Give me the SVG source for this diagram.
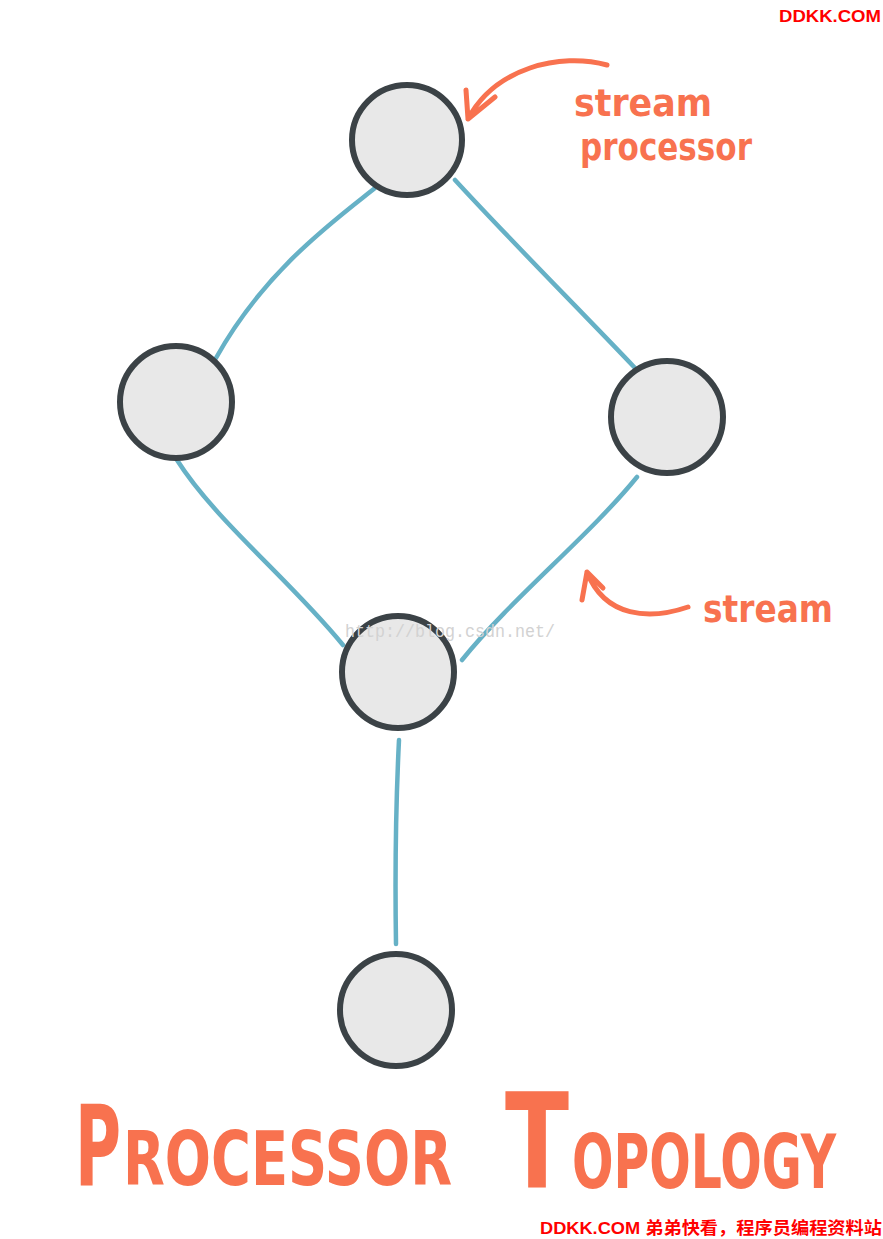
<svg xmlns="http://www.w3.org/2000/svg" width="883" height="1239" viewBox="0 0 883 1239">
<style>
.node{fill:#e8e8e8;stroke:#3b4246;stroke-width:6}
.edge{fill:none;stroke:#66b1c6;stroke-width:4.5;stroke-linecap:round}
.ann{fill:none;stroke:#f8724f;stroke-width:5;stroke-linecap:round;stroke-linejoin:round}
.hand{font-family:"DejaVu Sans","Liberation Sans",sans-serif;fill:#f8724f;font-weight:bold}
.wm{font-family:"Liberation Sans","Noto Sans CJK SC",sans-serif;font-weight:bold;fill:#ff0000;font-size:17px}
</style>
<rect width="883" height="1239" fill="#ffffff"/>
<g id="connectors">
<path class="edge" d="M375,188 C335,220 265,270 216,358"/>
<path class="edge" d="M455,180 C510,240 580,310 635,368"/>
<path class="edge" d="M177,460 C215,520 290,580 343,645"/>
<path class="edge" d="M637,477 C590,535 510,600 462,660"/>
<path class="edge" d="M399,740 C396,800 395,880 396,944"/>
</g>
<g id="node-top"><circle class="node" cx="407" cy="140" r="55"/></g>
<g id="node-left"><circle class="node" cx="176" cy="402" r="56"/></g>
<g id="node-right"><circle class="node" cx="667" cy="417" r="56"/></g>
<g id="node-middle"><circle class="node" cx="398" cy="672" r="56"/></g>
<g id="node-bottom"><circle class="node" cx="396" cy="1010" r="56"/></g>
<g id="label-stream-processor">
<path class="ann" d="M607,65 C560,52 495,68 468,119 M466,90 L468,119 L495,97"/>
<text class="hand" x="574" y="116" font-size="38" textLength="138" lengthAdjust="spacingAndGlyphs">stream</text>
<text class="hand" x="580" y="160" font-size="38" textLength="172" lengthAdjust="spacingAndGlyphs">processor</text>
</g>
<g id="label-stream">
<path class="ann" d="M688,607 C650,620 605,618 587,572 M582,600 L587,572 L603,588"/>
<text class="hand" x="703" y="622" font-size="38" textLength="130" lengthAdjust="spacingAndGlyphs">stream</text>
</g>
<g id="title">
<text class="hand" x="75" y="1185" font-size="112" textLength="46" lengthAdjust="spacingAndGlyphs">P</text>
<text class="hand" x="123" y="1185" font-size="74" textLength="329" lengthAdjust="spacingAndGlyphs">ROCESSOR</text>
<text class="hand" x="505" y="1188" font-size="132" textLength="64" lengthAdjust="spacingAndGlyphs">T</text>
<text class="hand" x="572" y="1188" font-size="74" textLength="264" lengthAdjust="spacingAndGlyphs">OPOLOGY</text>
</g>
<text x="345" y="637" font-family="'Liberation Mono',monospace" font-size="18" fill="#d2d2d2" textLength="210" lengthAdjust="spacingAndGlyphs">http://blog.csdn.net/</text>
<text class="wm" x="779" y="22" textLength="102" lengthAdjust="spacingAndGlyphs">DDKK.COM</text>
<text class="wm" x="540" y="1234" textLength="342" lengthAdjust="spacingAndGlyphs">DDKK.COM 弟弟快看，程序员编程资料站</text>
</svg>
